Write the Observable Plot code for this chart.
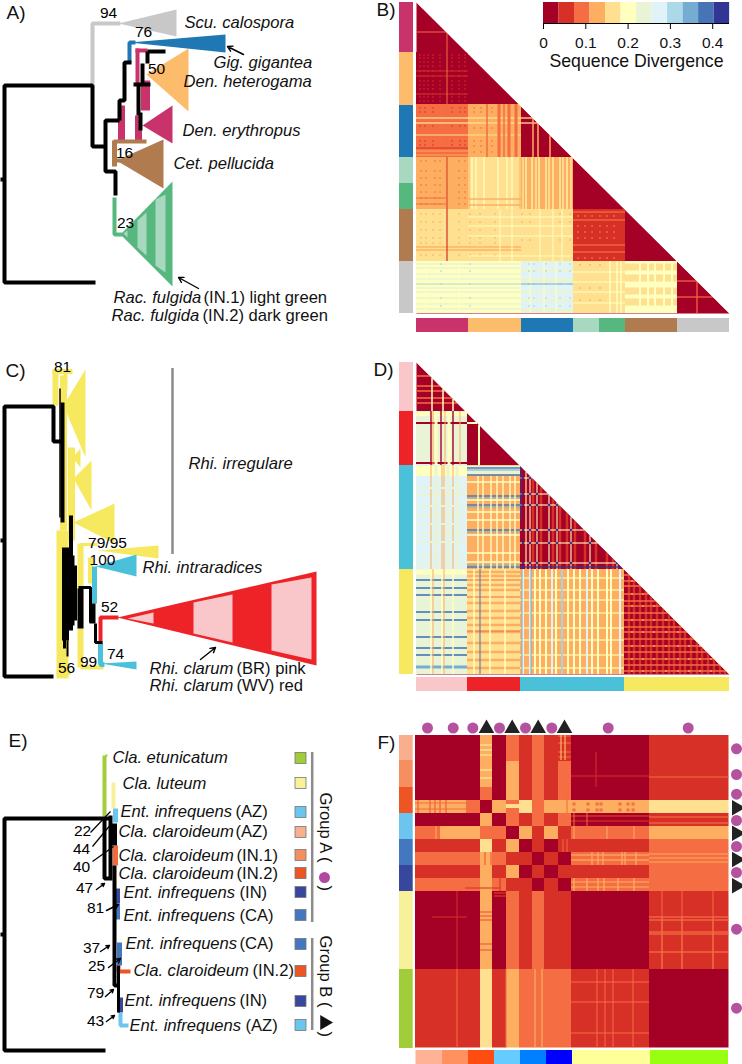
<!DOCTYPE html>
<html><head><meta charset="utf-8">
<style>html,body{margin:0;padding:0;background:#fff}svg{display:block}</style>
<script src="https://cdn.jsdelivr.net/npm/d3@7"></script>
<script src="https://cdn.jsdelivr.net/npm/@observablehq/plot@0.6"></script>
</head><body><div id="chart"></div>
<script>
/* ---- divergence colour key ---- */
const divergenceColors=["#a50026","#d73027","#f46d43","#fdae61","#fee090","#ffffbf","#e9f4d6","#e0f3f8","#abd9e9","#74add1","#4575b4","#313695"];
const divergenceMax=0.44;
const divergenceTicks=[0,0.1,0.2,0.3,0.4];
const binValues=[0.02,0.055,0.09,0.13,0.165,0.2,0.24,0.275,0.31,0.35,0.385,0.42];
const F="Liberation Sans";

/* ---- colours of taxa ---- */
const pink="#c9336b",orange="#fdbb6c",blue="#1f77b4",ltGreen="#a8d8c0",green="#56b87f",brown="#b07c4f",gray="#c8c8c8";
const cPink="#f9c6c9",cRed="#ee2328",cyan="#4bc0d9",yellow="#f6e960";

/* ---- B: block level of each pairwise comparison ---- */
const bEdgesX=[416,468,521,573,625,677,729];
const bEdgesY=[2,52,104,157,209,261,313];
const bLevels=[
 [0],[0,0],[2,3,0],[3,4,3,0],[4,4,4,1,0],[5,5,6,4,5,0]];
const bStripes=[
 [1,"c",[420,424,428,433,440,452,459,465],[55,58,62,66,71,76,81,85,89,94,97,101],1.3,0],
 [1,"h",416,468,1,[71,76,94]],
 [2,"h",416,447,1,[32]],[2,"v",32,157,1,[447]],
 [4,"h",416,540,1.3,[118,123]],[4,"h",416,521,1,[135]],
 [3,"h",416,468,1,[151,155]],[1,"h",416,468,1,[148]],
 [1,"c",[420,425,433,452,460,465],[108,112,126,141,145],1.3,0],
 [2,"v",104,157,3,[499,509,516]],[2,"v",104,157,1.5,[487,504]],
 [2,"c",[474,481,492],[108,112,128,141,146,152],1.4,0],
 [3,"v",118,157,1.5,[533,538,550]],
 [1,"v",157,209,1,[447]],
 [2,"c",[421,426,435,440,459,465],[161,171,178,185,192,198,204],1.4,0],[2,"h",416,447,1,[198,204]],
 [5,"v",157,209,1.3,[472,476,484,498,507,512]],[3,"h",468,521,1.4,[199,205]],
 [3,"v",157,209,1,[469,520]],
 [4,"v",157,209,2,[526,532,539,546,553,560,567]],[5,"v",157,209,1,[523,536,549,563,571]],
 [3,"h",416,521,1.3,[247,250]],[3,"c",[421,426,433,440,459,470,480,495],[214,222,230,238,243,255],1.4,0],[1,"v",209,261,1.2,[447]],
 [5,"h",468,573,1,[217,226,236,256]],[5,"v",209,261,1,[500,512,540,553,562]],
 [3,"c",[522,530,560,570],[214,222,240],1.4,0],
 [2,"h",573,625,1.3,[212,220,245,252]],[2,"c",[578,585,592,600,607,614],[216,226,232,238,258],1.6,0],
 [6,"h",416,521,1.5,[264,268,274,279,288,292,298,304,309]],
 [5,"v",261,313,1,[426,459]],
 [7,"h",521,573,6,[266,275,287,296,305]],[5,"v",261,313,1,[530,544,556]],
 [8,"c",[529,534,546,560,570,441,470],[264,271,284,298,306],1.5,0],[8,"h",416,521,1,[284]],[9,"h",521,573,1,[284]],
 [5,"v",261,313,1.4,[610,617,621]],
 [5,"h",573,625,1,[272,282,292,303]],[3,"c",[580,590,600],[265,288,300],1.6,0],
 [4,"h",625,677,7,[267,278,291,302]],[5,"v",261,313,2,[640,648,655,664,672]],
 [2,"h",677,729,1.2,[281,297]],[2,"v",281,313,1.2,[697]]];

/* ---- D ---- */
const dEdgesX=[416,467,520,624,729];
const dEdgesY=[362,411,465,569,674];
const dLevels=[[0],[6,0],[7,3,0],[6,4,3,0]];
const dStripes=[
 [2,"h",416,467,1.5,[376,386,391,398,403]],[5,"v",372,411,1.5,[432,443,453,465]],
 [5,"h",416,467,4,[414]],[0,"h",416,520,2,[423]],[0,"h",416,467,2,[463]],
 [5,"h",467,481,2,[423]],[5,"v",423,465,2,[479]],
 [0,"v",411,465,1.4,[431,441,453]],[3,"v",411,465,1,[433,445,460]],[5,"v",411,465,3,[436,449]],
 [5,"h",416,467,10,[471]],[6,"h",416,467,2,[495,515,533,556,564]],
 [3,"v",465,569,1,[431,442,444,453]],[6,"v",465,569,3,[436,448,457]],
 [6,"h",416,467,2,[488,506,524,542]],
 [6,"h",467,520,9,[470]],[5,"h",467,520,1.5,[482,500,512,520,535,553,562]],
 [10,"h",467,520,1.4,[468,475,496,505,530,567]],[9,"h",467,520,1,[470,498,507,532,565]],
 [5,"v",476,569,1.4,[478,483,491,497,503,510,515]],
 [1,"v",465,569,2.5,[533,541,553,560,567,575,585,596,607,613]],
 [5,"v",465,569,1.1,[526,530,537,549,557,571,590,617]],
 [5,"h",520,624,1.1,[478,494,505,530,543,563]],
 [11,"h",520,624,1.2,[567]],[11,"v",465,520,1,[521]],
 [11,"c",[523,530,537,549,557,571,590,617],[478,494,505,530,543,563],2.2,0],
 [6,"h",416,467,1.5,[574,584,600,625,644,660]],[5,"h",416,467,5,[572]],
 [10,"h",416,467,1.6,[580,588,595,612,620,637,648,655]],[9,"h",416,467,3,[667]],
 [5,"v",569,674,1.5,[431,442,453]],[3,"v",569,674,1,[433,444]],
 [3,"h",467,520,2.5,[572,576,585,590,603,611,618,625,632,643,652,660,668]],
 [2,"h",467,520,1,[580,597,631]],[5,"v",569,674,1.5,[474,490,505]],[10,"v",569,674,1,[480]],
 [4,"h",520,624,2,[578,590,600,613,628,640,655,668]],
 [5,"v",569,674,2,[535,540,546,556,568,574,580,592,598,607,611]],
 [7,"v",569,674,2,[523,530,552,562,587,620]],[9,"v",569,674,1,[522,531,562]],
 [1,"v",569,674,2.5,[629,634,640,646,651,657,663,669,674,680,685,691,697,702,708,714,720,725]],
 [2,"h",624,729,1.5,[575,581,586,594,601,606,613,620,627,632,639,646,652,659,665,671]],
 [3,"c",[632,643,654,666,678,689,700,711],[581,594,606,620,632,646,659,671],1.6,1]];

/* ---- F: 12 x 12 matrix ---- */
const fEdgesX=[415,440,466,480,492,506,519,532,544,558,571,649,728.5];
const fEdgesY=[735,761,787,800,813,826,839,852,865,878,891,969,1047.5];
const fLevels=[
 [0,0,0,3,0,2,1,2,1,1,0,1],
 [0,0,0,3,0,3,1,2,1,2,0,1],
 [0,0,0,2,0,3,1,2,1,2,0,1],
 [3,3,2,0,3,2,4,2,3,3,3,4],
 [0,0,0,3,0,2,1,2,1,2,0,1],
 [2,3,3,2,2,0,3,1,3,1,2,3],
 [1,1,1,4,1,3,0,1,0,1,1,2],
 [2,2,2,3,2,1,1,0,1,0,2,2],
 [1,1,1,3,1,3,0,1,0,1,1,2],
 [2,2,2,3,2,1,1,0,1,0,2,2],
 [0,0,0,3,0,2,1,2,1,1,0,1],
 [1,1,1,4,1,3,2,2,2,2,1,0]];
const fStripes=[
 [3,"v",735,787,1.5,[485,490]],[4,"h",480,492,1.5,[745,750,755,770,778]],
 [2,"h",558,571,1,[736,743,752,757]],[2,"v",787,813,1,[567]],
 [3,"v",735,760,1.3,[561,565]],
 [1,"h",571,649,1,[776]],[1,"v",752,787,1,[596]],[2,"h",649,728.5,1,[777]],
 [2,"v",800,813,1.5,[418,430,435,440,446]],[2,"h",415,480,1,[803,809]],
 [2,"c",[574,588,597,601,620,628,633],[804,810],3,2],[2,"c",[534,541],[803,810],2.5,1],
 [4,"c",[661,682,713],[805,811],2,3],[4,"h",506,519,4,[806]],
 [1,"h",571,649,1.2,[821]],[2,"h",649,728.5,1.2,[817,823]],[1,"h",571,649,1.5,[816]],
 [2,"v",813,826,1,[574,587]],
 [4,"v",839,852,2,[485,489]],
 [3,"v",826,839,1,[436]],[3,"v",826,839,1,[574,607,634]],[2,"v",839,852,1,[563,567]],
 [3,"h",649,728.5,1,[854,858,862]],[3,"v",852,865,1.2,[592,598,603,622,625,636]],
 [3,"h",571,649,1.2,[855,860]],[2,"v",852,865,1.5,[485,491]],
 [2,"v",878,891,1.2,[419,427,436,440]],[1,"h",465,500,1,[888]],
 [3,"v",878,891,1.3,[574,587,598,604,618,634]],[3,"h",571,649,1,[882,887]],
 [1,"v",878,891,1,[500]],
 [2,"v",917,969,1,[662,682,713]],[2,"h",649,728.5,1.3,[917,920,932,934,952]],[2,"v",891,969,1,[662,682,713]],
 [1,"v",891,969,1,[457]],[1,"h",432,467,1,[917]],
 [2,"h",480,492,1.5,[912,916,920,944,950]],[2,"h",532,544,1.3,[894,912,916,920,943,952]],
 [1,"h",558,571,1,[893,900,915,925]],[1,"v",891,969,1,[560,568]],[1,"h",494,506,1.5,[893,896]],
 [2,"v",969,1047.5,1,[457,597,605,613,633]],[2,"h",571,649,1,[982,1002,1033]],
 [3,"v",969,1047.5,1.2,[535,542]],[2,"v",969,1047.5,1,[506]]];

/* ---- side and bottom colour bars ---- */
const bBarSide=[[pink,2,52],[orange,52,105],[blue,105,157],[ltGreen,157,183],[green,183,209],[brown,209,261],[gray,261,313]];
const bBarFoot=[[pink,416,468],[orange,468,521],[blue,521,573],[ltGreen,573,599],[green,599,625],[brown,625,677],[gray,677,729]];
const dBarSide=[[cPink,362,411],[cRed,411,465],[cyan,465,569],[yellow,569,674]];
const dBarFoot=[[cPink,416,467],[cRed,467,520],[cyan,520,624],[yellow,624,729]];
const fBarSide=[["#f9ae8d",735,760],["#f68f5f",760,787],["#ee5524",787,813],["#6cc5ef",813,839],["#4377bf",839,865],["#38479e",865,891],["#f7f19b",891,969],["#a2cd3a",969,1048]];
const fBarFoot=[["#ffb295",415.5,441.5],["#ff9060",441.5,468],["#ff4d11",468,494],["#66ccff",494,520],["#0080ff",520,546],["#0000ff",546,572],["#ffff99",572,650],["#99ff11",650,728]];

/* ---- collapsed clades (filled polygons) ---- */
const cladesA=[
 [gray,[[118,23],[176,9],[176,36]]],
 [orange,[[146,74],[188,48],[188,111]]],
 [blue,[[129,42],[225,34],[225,52]]],
 [pink,[[142,125],[172,105],[172,143]]],
 [brown,[[116,160],[163,139],[163,188]]],
 [green,[[120,234],[172,181],[172,286]]],
 [ltGreen,[[137,220],[146,212],[146,255],[137,247]]],
 [ltGreen,[[155,199],[165,194],[165,272],[155,265]]],
 [ltGreen,[[123,233],[127,230],[127,237]]]];
const cladesC=[
 [yellow,[[63,405],[85,369],[85,457]]],[yellow,[[72,457],[80,448],[80,467]]],
 [yellow,[[73,478],[91,460],[91,510]]],[yellow,[[73,522],[114,503],[114,543]]],
 [yellow,[[97,550],[158,545],[158,558]]],
 [cyan,[[95,566],[136,554],[136,576]]],[cyan,[[100,663],[136,661],[136,669]]],
 [cRed,[[117,617],[316,571],[316,665]]],
 [cPink,[[127,618],[153,612],[153,623]]],
 [cPink,[[193,602],[232,594],[232,642],[193,633]]],
 [cPink,[[271,584],[311,577],[311,659],[271,650]]]];

/* ---- tree branches: colour, weight, path ---- */
const branchesA=[
 [gray,4,[[92,85],[92,23],[120,23]]],
 [blue,4,[[129,62],[129,42],[135,42]]],
 [pink,4,[[135,50],[147,50]]],[pink,4,[[137,48],[137,84]]],[pink,9,[[145,80],[145,110]]],
 [pink,7,[[121,105],[121,140]]],[pink,7,[[138,115],[138,140]]],
 [brown,4,[[113,141],[146,141]]],[brown,5,[[114,140],[114,166]]],[brown,4,[[113,160],[120,160]]],
 [green,4,[[114,197],[114,234],[122,234]]],
 ["#000",4,[[0,179],[4,179]]],
 ["#000",4,[[95,282],[4,282],[4,85],[92,85],[92,146],[105,146]]],
 ["#000",4,[[119,120],[105,120],[105,171],[115,171],[115,195]]],
 ["#000",4,[[119,120],[119,100],[124,100],[124,62],[131,62]]],
 ["#000",4,[[133,84],[150,84]]],["#000",4,[[142,63],[142,84]]],["#000",4,[[147,51],[147,63]]],["#000",4,[[147,51],[165,51]]],
 ["#000",4,[[138,84],[138,115]]],["#000",4,[[140,112],[140,130]]]];
const branchesC=[
 [yellow,6,[[55,370],[55,405]]],[yellow,5,[[52,371],[72,371]]],[yellow,4,[[65,372],[65,390]]],
 [yellow,7,[[63,375],[63,530]]],[yellow,7,[[71,447],[71,540]]],[yellow,12,[[62,530],[62,678]]],
 [yellow,6,[[80,543],[80,667]]],[yellow,3,[[80,544],[97,544]]],[yellow,4,[[80,667],[103,667]]],
 [yellow,5,[[90,557],[90,583]]],[yellow,5,[[56,672],[70,672]]],
 [cyan,5,[[94,566],[94,603]]],[cyan,5,[[100,642],[100,664],[104,664]]],
 [cRed,4,[[100,642],[100,617],[118,617]]],
 ["#000",4,[[53,676],[4,676],[4,406],[53,406],[53,441],[61,441]]],["#000",4,[[0,540],[4,540]]],
 ["#000",1.5,[[59.5,388],[59.5,517]]],["#000",4,[[62,402],[62,522]]],
 ["#000",4,[[70.5,515],[70.5,630]]],["#000",7,[[65,547],[65,640]]],["#000",8,[[70,555],[70,625]]],["#000",3,[[75,565],[75,620]]],
 ["#000",2,[[67,640],[67,656]]],["#000",3,[[64,630],[64,648]]],
 ["#000",6,[[80,588],[80,628]]],["#000",3,[[78,587],[90,587],[90,622]]],
 ["#000",6,[[92,603],[92,623]]],["#000",3,[[95,623],[95,642],[102,642]]]];
const branchesE=[
 ["#a2cd3a",4,[[104,755],[104,816]]],["#a2cd3a",2,[[105,755],[107,755]]],
 ["#f7f19b",4,[[113,782],[113,808]]],["#6cc5ef",5,[[115,808],[115,822]]],
 ["#f4683a",5,[[115,845],[115,865]]],["#38479e",5,[[117,888],[117,903]]],["#4377bf",5,[[117,903],[117,919]]],
 ["#4377bf",5,[[119,942],[119,965]]],["#f0532a",4,[[118,965],[118,971],[130,971]]],
 ["#38479e",5,[[120,997],[120,1012]]],["#6cc5ef",4,[[120,1012],[120,1025],[128,1025]]],
 ["#000",4,[[0,934],[4,934]]],
 ["#000",4,[[105,1050],[4,1050],[4,818],[110,818]]],
 ["#000",4,[[104,818],[104,878],[112,878],[110,878],[110,815]]],
 ["#000",5,[[114,823],[114,845]]],["#000",4,[[114,865],[114,985],[119,985]]],
 ["#000",3,[[118,965],[118,1012]]]];

/* ---- texts ---- */
const panelLetters=[["A)",6,12],["B)",376,9],["C)",5,370],["D)",373,369],["E)",8,740],["F)",377,742]];
const speciesNames=[
 ["Scu. calospora",184,22],["Gig. gigantea",213,62],["Den. heterogama",183,81],["Den. erythropus",182,130],["Cet. pellucida",173,163],
 ["Rac. fulgida",113,297],["Rac. fulgida",111,315],
 ["Rhi. irregulare",188,463],["Rhi. intraradices",142,567],["Rhi. clarum",149,668],["Rhi. clarum",149,685],
 ["Cla. etunicatum",112,757],["Cla. luteum",122,783],["Ent. infrequens",120,811],["Cla. claroideum",118,831],["Cla. claroideum",118,855],["Cla. claroideum",118,873],
 ["Ent. infrequens",123,892],["Ent. infrequens",123,915],["Ent. infrequens",125,943],["Cla. claroideum",133,970],["Ent. infrequens",124,1000],["Ent. infrequens",129,1025]];
const plainNames=[
 ["(IN.1) light green",203,297],["(IN.2) dark green",202,315],["(BR) pink",236,668],["(WV) red",236,685],
 ["(AZ)",235,811],["(AZ)",235,831],["(IN.1)",236,855],["(IN.2)",236,873],["(IN)",239,892],["(CA)",239,915],["(CA)",239,943],["(IN.2)",252,970],["(IN)",239,1000],["(AZ)",245,1025]];
const supportValues=[
 ["94",108,13],["76",143,32],["50",156,69],["16",124,153],["23",125,223],
 ["81",62,367],["79/95",107,543],["100",102,560],["52",109,607],["74",115,654],["99",88,662],["56",66,668],
 ["22",82,831],["44",81,849],["40",81,867],["47",84,888],["81",95,908],["37",91,948],["25",96,966],["79",95,993],["43",95,1021]];

/* ---- E: legend squares, leader lines ---- */
const eSquares=[["#a2cd3a",758],["#f7f19b",783],["#6cc5ef",812],["#f6b090",832],["#f48f5f",855],["#ee5524",873],["#38479e",892],["#4377bf",915],["#4377bf",944],["#ee5524",971],["#38479e",1001],["#6cc5ef",1025]];
const eLeaders=[[90,832,110,811],[92,846,111,823],[92,861,113,846]];
const arrowsAll=[[243,54,227,46],[198,288,178,277],[200,659,215,647],[96,889,104,883],[106,910,118,904],[100,951,109,945],[108,967,120,958],[105,996,113,989],[106,1021,114,1015]];

/* ---- F: markers ---- */
const fTopMarks=[["c",427],["c",452.7],["c",472.3],["t",486],["c",499],["t",511.7],["c",525],["t",537.7],["c",551.3],["t",564],["c",607.7],["c",687.7]];
const fRightMarks=[["c",748.3],["c",774],["c",793.7],["t",807.3],["c",820],["t",832.7],["c",846],["t",859],["c",872],["t",885.3],["c",928.7],["c",1007.7]];

/* ---- build tables ---- */
const val=l=>binValues[l];
function triangleCells(ex,ey,lv){const o=[];lv.forEach((row,r)=>row.forEach((l,c)=>{if(c<r)o.push({x1:ex[c],x2:ex[c+1],y1:ey[r],y2:ey[r+1],v:val(l)});}));return o;}
function squareCells(ex,ey,lv){const o=[];lv.forEach((row,r)=>row.forEach((l,c)=>o.push({x1:ex[c],x2:ex[c+1],y1:ey[r],y2:ey[r+1],v:val(l)})));return o;}
function stripeCells(list,diag){const o=[];
 for(const s of list){
  if(s[1]==="c"){const [l,,xs,ys,size]=s;for(const x of xs)for(const y of ys){
    if(diag&&x>diag.x(y))continue;
    o.push({x1:x-size/2,x2:x+size/2,y1:y-size/2,y2:y+size/2,v:val(l)});}continue;}
  const [l,dir,a,b,w,at]=s;
  for(const p of at){
   if(dir==="h"){let e=b;if(diag)e=Math.min(b,diag.x(p));o.push({x1:a,x2:e,y1:p-w/2,y2:p+w/2,v:val(l)});}
   else{let st=a;if(diag)st=Math.max(a,diag.y(p));o.push({x1:p-w/2,x2:p+w/2,y1:st,y2:b,v:val(l)});}
  }}
 return o;}
const diagOf=(x0,y0,x1,y1)=>({x:y=>x0+(y-y0)*(x1-x0)/(y1-y0),y:x=>y0+(x-x0)*(y1-y0)/(x1-x0)});
const heat=[
 ...triangleCells(bEdgesX,bEdgesY,bLevels),
 ...stripeCells(bStripes,diagOf(416,2,729,313)),
 ...triangleCells(dEdgesX,dEdgesY,dLevels),
 ...stripeCells(dStripes,diagOf(416,362,729,674)),
 ...squareCells(fEdgesX,fEdgesY,fLevels),
 ...stripeCells(fStripes,null)];
const bigTriangles=[[[416,2],[416,313],[729,313]],[[416,362],[416,674],[729,674]]];
const triVerts=bigTriangles.flatMap((t,i)=>t.map(p=>({id:i,x:p[0],y:p[1],v:val(0)})));
const wedges=[[[416,2],[729,313],[742,313],[742,0],[416,0]],[[416,362],[729,674],[742,674],[742,345],[416,345]]];
const wedgeVerts=wedges.flatMap((t,i)=>t.map(p=>({id:i,x:p[0],y:p[1]})));
const polyVerts=[...cladesA,...cladesC].flatMap(([c,pts],i)=>pts.map(p=>({id:i,c,x:p[0],y:p[1]})));
const pathVerts=[...branchesA,...branchesC,...branchesE].flatMap(([c,w,pts],i)=>pts.map(p=>({id:i,c,w,x:p[0],y:p[1]})));
const bars=[
 ...bBarSide.map(([c,a,b])=>({c,x1:399,x2:413,y1:a,y2:b})),
 ...bBarFoot.map(([c,a,b])=>({c,x1:a,x2:b,y1:318,y2:332})),
 ...dBarSide.map(([c,a,b])=>({c,x1:399,x2:413,y1:a,y2:b})),
 ...dBarFoot.map(([c,a,b])=>({c,x1:a,x2:b,y1:677,y2:691})),
 ...fBarSide.map(([c,a,b])=>({c,x1:399,x2:412.7,y1:a,y2:b})),
 ...fBarFoot.map(([c,a,b])=>({c,x1:a,x2:b,y1:1050,y2:1064}))];
const legendX=v=>543+v*423;
const binW=divergenceMax/12;
const legendCells=binValues.map((v,i)=>({x1:legendX(i*binW),x2:legendX((i+1)*binW),y1:2,y2:23,v}));
const thresholds=d3.range(1,12).map(i=>i*binW);
const lit=f=>({value:f,scale:null});
const TS=16.6;
const italicText={fontFamily:F,fontStyle:"italic",fontSize:TS,textAnchor:"start",fill:"#111"};
const plainText={fontFamily:F,fontSize:TS,textAnchor:"start",fill:"#111"};

const chart=Plot.plot({
 width:742,height:1064,margin:0,
 style:{background:"#fff",fontFamily:F},
 x:{domain:[0,742],range:[0,742],axis:null},y:{domain:[0,1064],range:[0,1064],axis:null},
 color:{type:"threshold",domain:thresholds,range:divergenceColors},
 marks:[
  Plot.line(triVerts,{x:"x",y:"y",z:"id",fill:"v",stroke:"none"}),
  Plot.rect(heat,{x1:"x1",x2:"x2",y1:"y1",y2:"y2",fill:"v"}),
  Plot.line(wedgeVerts,{x:"x",y:"y",z:"id",fill:"#fff",stroke:"none"}),
  Plot.rect(legendCells,{x1:"x1",x2:"x2",y1:"y1",y2:"y2",fill:"v"}),
  Plot.ruleY([23],{x1:543,x2:729,stroke:"#000",strokeWidth:1}),
  Plot.ruleX(divergenceTicks,{x:legendX,y1:23,y2:29,stroke:"#000",strokeWidth:1}),
  Plot.text(divergenceTicks,{x:legendX,y:()=>43,text:d=>d===0?"0":String(d),fontFamily:F,fontSize:15.5,fill:"#111"}),
  Plot.text(["Sequence Divergence"],{x:()=>636,y:()=>61,text:d=>d,fontFamily:F,fontSize:17.7,fill:"#111"}),
  Plot.rect(bars,{x1:"x1",x2:"x2",y1:"y1",y2:"y2",fill:lit(d=>d.c)}),
  Plot.line(polyVerts,{x:"x",y:"y",z:"id",fill:lit(d=>d.c),stroke:"none"}),
  Plot.ruleX([172],{y1:368,y2:554,stroke:"#8c8c8c",strokeWidth:2.5}),
  Plot.line(pathVerts,{x:"x",y:"y",z:"id",stroke:lit(d=>d.c),strokeWidth:"w",strokeLinejoin:"miter",strokeLinecap:"butt"}),
  Plot.ruleX([311.7],{y1:752,y2:922,stroke:"#8c8c8c",strokeWidth:2.5}),
  Plot.ruleX([311.7],{y1:938,y2:1030,stroke:"#8c8c8c",strokeWidth:2.5}),
  Plot.rect(eSquares,{x1:()=>295,x2:()=>306,y1:d=>d[1]-5.5,y2:d=>d[1]+5.5,fill:lit(d=>d[0]),stroke:"#777",strokeWidth:0.8}),
  Plot.link(eLeaders,{x1:d=>d[0],y1:d=>d[1],x2:d=>d[2],y2:d=>d[3],stroke:"#000",strokeWidth:1.2}),
  Plot.arrow(arrowsAll,{x1:d=>d[0],y1:d=>d[1],x2:d=>d[2],y2:d=>d[3],stroke:"#000",strokeWidth:1.4,headLength:6,bend:0}),
  Plot.text(panelLetters,{x:d=>d[1],y:d=>d[2],text:d=>d[0],fontFamily:F,fontSize:19,textAnchor:"start",fill:"#111"}),
  Plot.text(speciesNames,{x:d=>d[1],y:d=>d[2],text:d=>d[0],...italicText}),
  Plot.text(plainNames,{x:d=>d[1],y:d=>d[2],text:d=>d[0],...plainText}),
  Plot.text(supportValues,{x:d=>d[1],y:d=>d[2],text:d=>d[0],fontFamily:F,fontSize:15.5,fill:"#000"}),
  Plot.text(["Group A ("],{x:()=>325,y:()=>792,text:d=>d,rotate:90,textAnchor:"start",fontFamily:F,fontSize:TS,fill:"#111"}),
  Plot.text([")"],{x:()=>325,y:()=>885,text:d=>d,rotate:90,textAnchor:"start",fontFamily:F,fontSize:TS,fill:"#111"}),
  Plot.text(["Group B ("],{x:()=>325,y:()=>935,text:d=>d,rotate:90,textAnchor:"start",fontFamily:F,fontSize:TS,fill:"#111"}),
  Plot.text([")"],{x:()=>325,y:()=>1031,text:d=>d,rotate:90,textAnchor:"start",fontFamily:F,fontSize:TS,fill:"#111"}),
  Plot.dot(["A"],{x:()=>324,y:()=>877,r:5.5,fill:"#b0489f"}),
  Plot.dot(["B"],{x:()=>324,y:()=>1022,symbol:"triangle",rotate:90,r:5.5,fill:"#111"}),
  Plot.dot(fTopMarks.filter(d=>d[0]==="c"),{x:d=>d[1],y:()=>727.5,r:5.5,fill:"#b5529f"}),
  Plot.dot(fTopMarks.filter(d=>d[0]==="t"),{x:d=>d[1],y:()=>728,symbol:"triangle",r:5.8,fill:"#222"}),
  Plot.dot(fRightMarks.filter(d=>d[0]==="c"),{x:()=>736,y:d=>d[1],r:5.5,fill:"#b5529f"}),
  Plot.dot(fRightMarks.filter(d=>d[0]==="t"),{x:()=>736,y:d=>d[1],symbol:"triangle",rotate:90,r:5.8,fill:"#222"})
 ]});
document.getElementById("chart").append(chart);
</script></body></html>
